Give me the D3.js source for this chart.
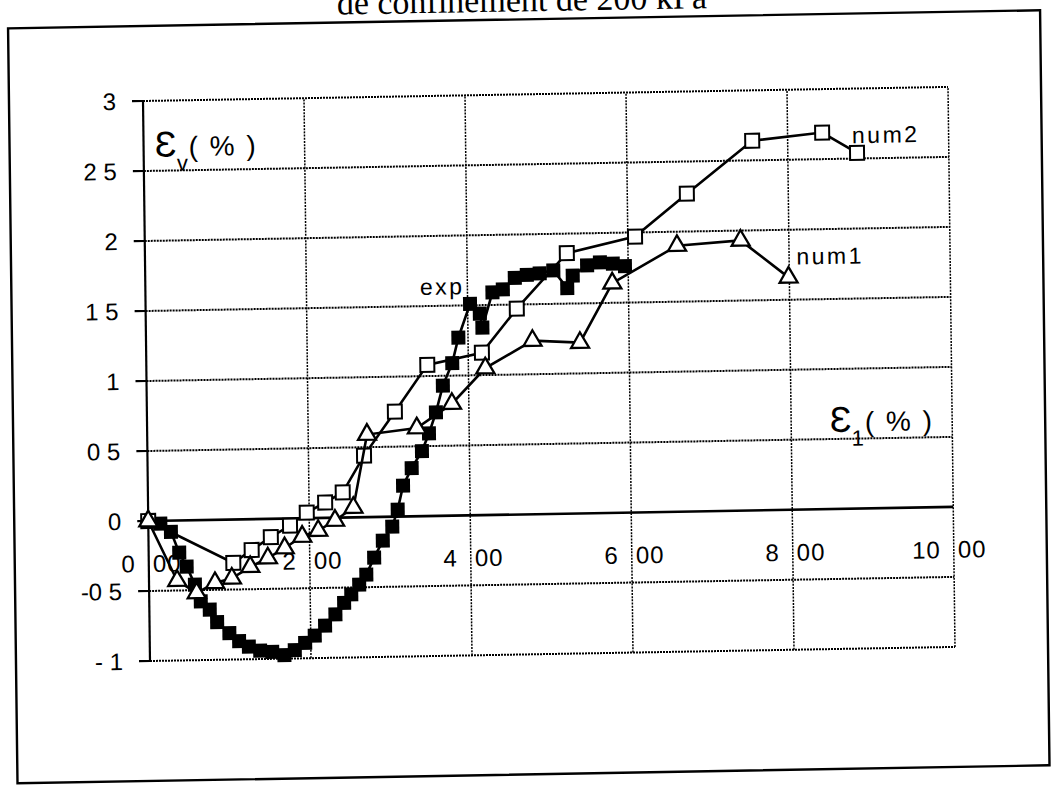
<!DOCTYPE html>
<html>
<head>
<meta charset="utf-8">
<script src="https://cdn.jsdelivr.net/npm/d3@7"></script>
<style>
  html, body { margin: 0; padding: 0; background: #fff; }
  svg { display: block; }
</style>
</head>
<body>
<svg id="chart" width="1056" height="785"></svg>
<script>
// ---- data ----------------------------------------------------------------
const titleText = "de confinement de 200 kPa";

const yTicks = [-1, -0.5, 0, 0.5, 1, 1.5, 2, 2.5, 3];
const yTickInt = ["- 1", "-0", "0", "0", "1", "1", "2", "2", "3"];
const yTickDec = ["", "5", "", "5", "", "5", "", "5", ""];

const xTicks = [0, 2, 4, 6, 8, 10];
const xTickInt = ["0", "2", "4", "6", "8", "10"];
const xTickDec = ["00", "00", "00", "00", "00", "00"];

// experimental curve (filled squares)
const expX = [0, 0.15, 0.28, 0.38, 0.47, 0.57, 0.64, 0.75, 0.84, 0.99,
              1.11, 1.23, 1.37, 1.52, 1.67, 1.80, 1.93, 2.05, 2.18, 2.31,
              2.42, 2.51, 2.61, 2.70, 2.80, 2.91, 3.03, 3.10, 3.17, 3.28,
              3.41, 3.50, 3.59, 3.68, 3.80, 3.88, 4.03, 4.15, 4.18, 4.31,
              4.44, 4.59, 4.74, 4.90, 5.07, 5.24, 5.31, 5.49, 5.65, 5.81, 5.96];
const expY = [0, -0.02, -0.08, -0.23, -0.33, -0.46, -0.58, -0.64, -0.73, -0.81,
              -0.87, -0.91, -0.94, -0.95, -0.975, -0.94, -0.89, -0.84, -0.77, -0.69,
              -0.61, -0.55, -0.48, -0.41, -0.29, -0.17, -0.07, 0.05, 0.22, 0.345,
              0.465, 0.59, 0.74, 0.93, 1.09, 1.27, 1.51, 1.44, 1.34, 1.59,
              1.61, 1.69, 1.71, 1.72, 1.74, 1.61, 1.70, 1.77, 1.79, 1.78, 1.76];

// simulation 1 (open triangles)
const num1X = [0, 0.35, 0.59, 0.82, 1.03, 1.26, 1.48, 1.69, 1.91, 2.11, 2.32,
               2.55, 2.73, 3.35, 3.79, 4.21, 4.80, 5.39, 5.80, 6.61, 7.40, 7.99];
const num1Y = [0, -0.43, -0.52, -0.45, -0.42, -0.34, -0.28, -0.21, -0.13, -0.09, -0.02,
               0.07, 0.59, 0.63, 0.80, 1.05, 1.24, 1.22, 1.64, 1.90, 1.93, 1.66];

// simulation 2 (open squares)
const num2X = [0, 1.05, 1.28, 1.52, 1.76, 1.97, 2.20, 2.42, 2.69, 3.08,
               3.49, 4.17, 4.61, 5.24, 6.09, 6.74, 7.56, 8.43, 8.86];
const num2Y = [0, -0.31, -0.22, -0.13, -0.05, 0.04, 0.11, 0.18, 0.44, 0.75,
               1.08, 1.16, 1.47, 1.86, 1.97, 2.27, 2.64, 2.69, 2.54];

// ---- layout --------------------------------------------------------------
const plotL = 143, plotR = 948, plotT = 101, plotB = 661;
const x = d3.scaleLinear().domain([0, 10]).range([plotL, plotR]);
const y = d3.scaleLinear().domain([-1, 3]).range([plotB, plotT]);

const svg = d3.select("#chart");
// the whole sheet sits slightly tilted on the page
const g = svg.append("g")
  .attr("transform", `translate(${plotL},${plotT}) matrix(1,-0.0175,0.0125,1,0,0) translate(${-plotL},${-plotT})`);

const sans = "'Liberation Sans', Arial, Helvetica, sans-serif";

// outer frame
g.append("rect")
  .attr("x", 9).attr("y", 26)
  .attr("width", 1032).attr("height", 755)
  .attr("fill", "none").attr("stroke", "#000").attr("stroke-width", 2.4);

// title (runs off the top of the sheet)
g.append("text")
  .attr("x", 523).attr("y", 18)
  .attr("text-anchor", "middle")
  .attr("font-family", "'Liberation Serif', 'Times New Roman', serif")
  .attr("font-size", 34)
  .attr("fill", "#000")
  .text(titleText);

// ---- grid ----------------------------------------------------------------
g.append("g").selectAll("line")
  .data(yTicks.filter(v => v !== 0))
  .join("line")
  .attr("x1", x(0)).attr("x2", x(10))
  .attr("y1", d => y(d)).attr("y2", d => y(d))
  .attr("stroke", "#000").attr("stroke-width", 2)
  .attr("stroke-dasharray", "2,1");

g.append("g").selectAll("line")
  .data(xTicks.filter(v => v !== 0))
  .join("line")
  .attr("x1", d => x(d)).attr("x2", d => x(d))
  .attr("y1", y(-1)).attr("y2", y(3))
  .attr("stroke", "#000").attr("stroke-width", 1.5)
  .attr("stroke-dasharray", "2,1.2");

// axes: vertical axis at x = 0, horizontal axis at y = 0
g.append("line")
  .attr("x1", x(0)).attr("x2", x(0))
  .attr("y1", y(-1)).attr("y2", y(3))
  .attr("stroke", "#000").attr("stroke-width", 2.2);
g.append("line")
  .attr("x1", x(0)).attr("x2", x(10))
  .attr("y1", y(0)).attr("y2", y(0))
  .attr("stroke", "#000").attr("stroke-width", 2.6);

// y tick marks and labels
g.append("g").selectAll("line")
  .data(yTicks)
  .join("line")
  .attr("x1", x(0) - 11).attr("x2", x(0))
  .attr("y1", d => y(d)).attr("y2", d => y(d))
  .attr("stroke", "#000").attr("stroke-width", 2.2);

const yl = g.append("g").selectAll("text")
  .data(yTicks)
  .join("text")
  .attr("font-family", sans).attr("font-size", 24)
  .attr("fill", "#000");
yl.append("tspan")
  .attr("x", (d, i) => yTickDec[i] ? x(0) - 47 : x(0) - 27)
  .attr("y", d => y(d) + 8.5)
  .attr("text-anchor", "end")
  .text((d, i) => yTickInt[i]);
yl.append("tspan")
  .attr("x", x(0) - 27)
  .attr("y", d => y(d) + 8.5)
  .attr("text-anchor", "end")
  .text((d, i) => yTickDec[i]);

// x tick labels: integer part left of the grid line, decimals right of it
const xl = g.append("g").selectAll("text")
  .data(xTicks)
  .join("text")
  .attr("font-family", sans).attr("font-size", 24)
  .attr("letter-spacing", 1)
  .attr("fill", "#000");
xl.append("tspan")
  .attr("x", d => x(d) - 13).attr("y", y(0) + 51)
  .attr("text-anchor", "end")
  .text((d, i) => xTickInt[i]);
xl.append("tspan")
  .attr("x", d => x(d) + 4).attr("y", y(0) + 51)
  .attr("text-anchor", "start")
  .text((d, i) => xTickDec[i]);

// ---- series --------------------------------------------------------------
const line = d3.line().x(d => x(d[0])).y(d => y(d[1]));
const pts = (xs, ys) => xs.map((v, i) => [v, ys[i]]);

const expData = pts(expX, expY);
const num2Data = pts(num2X, num2Y);
const num1Data = pts(num1X, num1Y);

// experimental
g.append("path").datum(expData)
  .attr("d", line).attr("fill", "none")
  .attr("stroke", "#000").attr("stroke-width", 2.6);
g.append("g").selectAll("rect")
  .data(expData)
  .join("rect")
  .attr("x", d => x(d[0]) - 7).attr("y", d => y(d[1]) - 7)
  .attr("width", 14).attr("height", 14)
  .attr("fill", "#000");

// num2
g.append("path").datum(num2Data)
  .attr("d", line).attr("fill", "none")
  .attr("stroke", "#000").attr("stroke-width", 2.6);
g.append("g").selectAll("rect")
  .data(num2Data)
  .join("rect")
  .attr("x", d => x(d[0]) - 7).attr("y", d => y(d[1]) - 7)
  .attr("width", 14).attr("height", 14)
  .attr("fill", "#fff").attr("stroke", "#000").attr("stroke-width", 2);

// num1
g.append("path").datum(num1Data)
  .attr("d", line).attr("fill", "none")
  .attr("stroke", "#000").attr("stroke-width", 2.6);
const tri = d3.symbol().type(d3.symbolTriangle).size(140);
g.append("g").selectAll("path")
  .data(num1Data)
  .join("path")
  .attr("d", tri)
  .attr("transform", d => `translate(${x(d[0])},${y(d[1])})`)
  .attr("fill", "#fff").attr("stroke", "#000").attr("stroke-width", 2.3);

// ---- annotations ---------------------------------------------------------
function seriesLabel(txt, dx, dy) {
  g.append("text")
    .attr("x", x(dx)).attr("y", y(dy))
    .attr("font-family", sans).attr("font-size", 23)
    .attr("letter-spacing", 2.5)
    .attr("fill", "#000")
    .text(txt);
}
seriesLabel("exp", 3.41, 1.58);
seriesLabel("num1", 8.09, 1.75);
seriesLabel("num2", 8.80, 2.61);

// axis titles: epsilon with subscript, then the unit
function axisTitle(dx, dy, sub) {
  const t = g.append("text")
    .attr("x", x(dx)).attr("y", y(dy))
    .attr("font-family", "'Liberation Sans', 'DejaVu Sans', sans-serif")
    .attr("fill", "#000");
  t.append("tspan").attr("font-size", 36).text("\u0190");
  t.append("tspan").attr("font-size", 22).attr("dy", 14).text(sub);
  t.append("tspan").attr("font-size", 28).attr("dy", -14).attr("dx", 1)
    .attr("letter-spacing", 2)
    .attr("xml:space", "preserve").text("( % )");
}
axisTitle(0.14, 2.60, "v");
axisTitle(8.48, 0.55, "1");
</script>
</body>
</html>
